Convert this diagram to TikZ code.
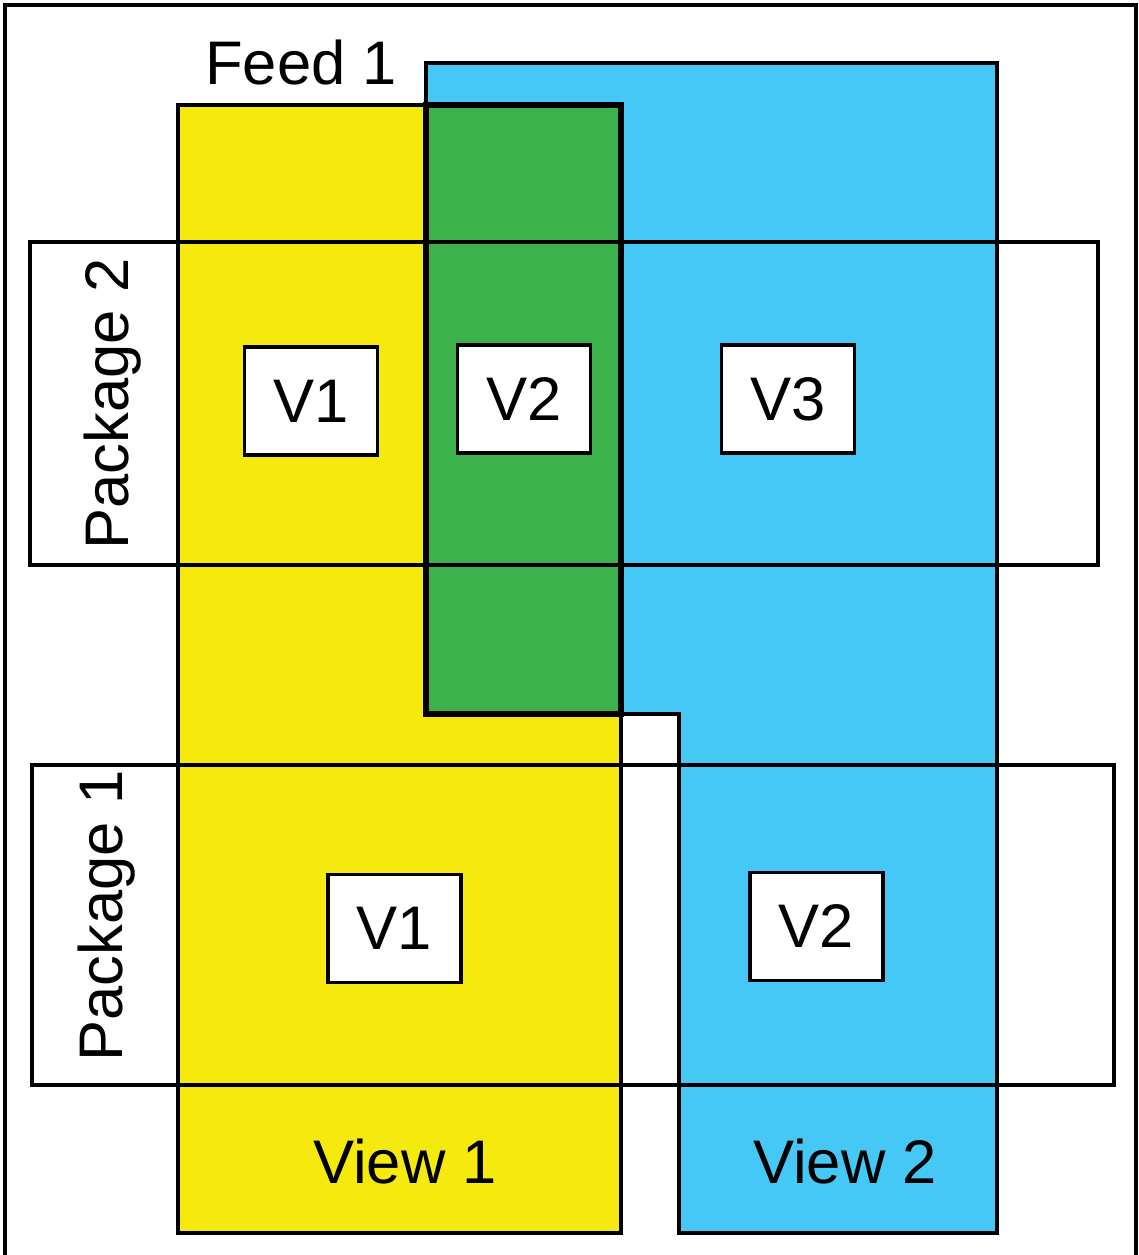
\documentclass[tikz,border=0pt]{standalone}
\usepackage{fontspec}
\setmainfont{Liberation Sans}
\usepackage{tikz}

\definecolor{viewyellow}{RGB}{245,233,14}
\definecolor{viewblue}{RGB}{69,200,245}
\definecolor{viewgreen}{RGB}{60,177,76}

\begin{document}
\begin{tikzpicture}[x=0.01cm,y=-0.01cm,
  every node/.style={font=\fontsize{17.5}{21}\selectfont, inner sep=0pt},
  edge/.style={draw=black, line width=1.1pt},
  vbox/.style={edge, fill=white, minimum width=1.33cm, minimum height=1.08cm}]
\useasboundingbox (0,0) rectangle (1138,1255);
\draw [black, line width=0.9pt] (5,1255) -- (5,5) -- (1136,5) -- (1136,1255);
\fill [viewyellow] (178,105) rectangle (621,1233);
\fill [viewblue] (426,63) -- (997,63) -- (997,1233) -- (679,1233) -- (679,714) -- (426,714) -- cycle;
\fill [viewgreen] (426,105) rectangle (621,714);
\draw [edge] (178,105) rectangle (621,1233);
\draw [edge] (426,105) -- (426,63) -- (997,63) -- (997,1233) -- (679,1233) -- (679,714) -- (621,714);
\draw [edge, line width=1.5pt] (426,105) rectangle (621,714);
\draw [edge] (30,242) rectangle (1098,565);
\draw [edge] (32,765) rectangle (1114,1085);
\node [vbox] (p2v1) at (311,401) {V1};
\node [vbox] (p2v2) at (524,399) {V2};
\node [vbox] (p2v3) at (788,399) {V3};
\node [vbox] (p1v1) at (394.5,928.5) {V1};
\node [vbox] (p1v2) at (816.5,926.5) {V2};
\node [anchor=base] (feed1) at (301,85) {Feed 1};
\node [anchor=base] (view1) at (405,1183) {View 1};
\node [anchor=base] (view2) at (845,1183) {View 2};
\node [rotate=90, anchor=base] (pkg2) at (128,404) {Package 2};
\node [rotate=90, anchor=base] (pkg1) at (122,916) {Package 1};
\end{tikzpicture}
\end{document}
